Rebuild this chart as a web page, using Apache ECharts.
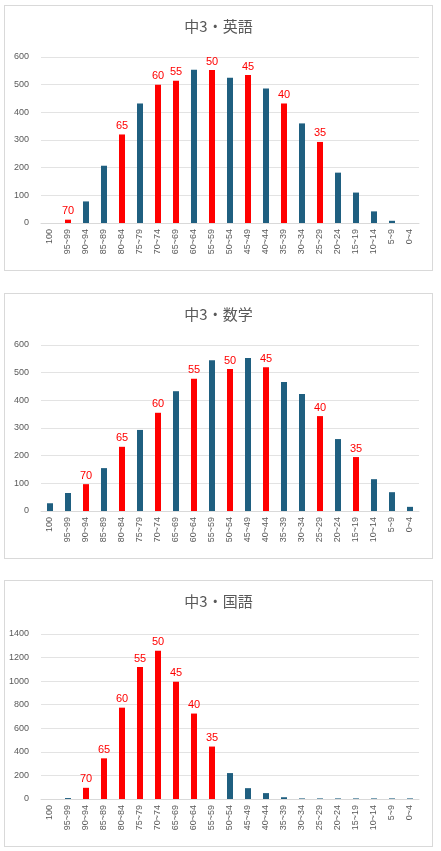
<!DOCTYPE html>
<html><head><meta charset="utf-8">
<script src="https://cdn.jsdelivr.net/npm/echarts@6/dist/echarts.min.js"></script>
<style>
body{margin:0;background:#fff;width:441px;height:851px;position:relative;font-family:"Noto Sans CJK JP",sans-serif}
.c{position:absolute;left:4px;width:429px;border:1px solid #d9d9d9;box-sizing:border-box}
</style></head><body>
<div id="c1" class="c" style="top:5px;height:266px"></div>
<div id="c2" class="c" style="top:293px;height:266px"></div>
<div id="c3" class="c" style="top:580px;height:267px"></div>
<script>
const categories=["100","95~99","90~94","85~89","80~84","75~79","70~74","65~69","60~64","55~59","50~54","45~49","40~44","35~39","30~34","25~29","20~24","15~19","10~14","5~9","0~4"];
const englishValues=[0,12,78,207,320,432,500,514,554,553,525,535,486,432,360,293,182,110,42,8,0];
const englishRed=[1,4,6,7,9,11,13,15];
const mathValues=[28,65,97,155,232,293,355,433,478,545,513,553,520,466,423,343,260,195,115,68,15];
const mathRed=[2,4,6,8,10,12,15,17];
const japaneseValues=[0,8,95,345,775,1120,1258,995,725,445,220,92,50,15,5,5,5,5,5,5,5];
const japaneseRed=[2,3,4,5,6,7,8,9];
const devLabels=["70","65","60","55","50","45","40","35"];
function make(id,title,vals,red,max,interval,top){
  const data=vals.map((v,i)=>{
    const k=red.indexOf(i);
    if(k<0) return {value:v,itemStyle:{color:'#1f5f80'}};
    return {value:v,itemStyle:{color:'#ff0000'},label:{show:true,position:'top',formatter:devLabels[k],color:'#ff0000',fontSize:11,distance:3}};
  });
  const ch=echarts.init(document.getElementById(id));
  ch.setOption({
    animation:false,
    title:{text:title,left:'center',top:8,textStyle:{fontSize:15,fontWeight:'normal',color:'#595959',fontFamily:'Noto Sans CJK JP'}},
    grid:{left:36,right:13,top:top,bottom:47},
    xAxis:{type:'category',data:categories,axisTick:{show:false},axisLine:{lineStyle:{color:'#d9d9d9'}},
      axisLabel:{rotate:90,fontSize:9,color:'#595959',interval:0,margin:6}},
    yAxis:{type:'value',min:0,max:max,interval:interval,axisLabel:{fontSize:9,color:'#595959',margin:12,formatter:v=>String(v)},
      splitLine:{lineStyle:{color:'#e3e3e3'}},axisLine:{show:false},axisTick:{show:false}},
    series:[{type:'bar',data:data,barWidth:6}]
  });
}
make('c1','中3・英語',englishValues,englishRed,600,100,51);
make('c2','中3・数学',mathValues,mathRed,600,100,51);
make('c3','中3・国語',japaneseValues,japaneseRed,1400,200,53);
</script></body></html>
